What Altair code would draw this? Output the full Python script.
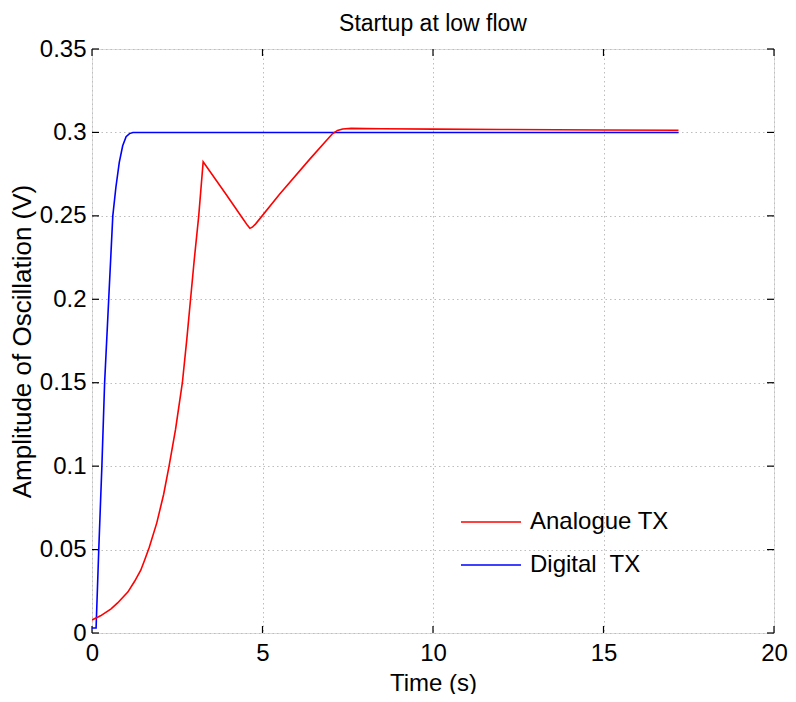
import altair as alt
import pandas as pd

# Analogue TX (red)
ana_t = [0, 0.25, 0.56, 0.75, 1.05, 1.25, 1.43, 1.55, 1.68, 1.9, 2.1, 2.26, 2.45, 2.65,
         2.78, 2.89, 3.0, 3.13, 3.26, 3.95, 4.45, 4.56, 4.63, 4.7, 4.8, 5.5, 6.4, 6.9,
         7.05, 7.2, 7.35, 7.6, 8.5, 10, 12, 15, 17.2]
ana_v = [0.0078, 0.0103, 0.0145, 0.018, 0.0245, 0.031, 0.0376, 0.044, 0.0514, 0.066,
         0.083, 0.1, 0.122, 0.15, 0.176, 0.2, 0.224, 0.25, 0.2824, 0.2623, 0.2475,
         0.2443, 0.2425, 0.2432, 0.2452, 0.2630, 0.2843, 0.2958, 0.2992, 0.3012, 0.3021,
         0.3024, 0.3022, 0.302, 0.3018, 0.3015, 0.3013]

# Digital TX (blue)
dig_t = [0, 0.12, 0.2, 0.29, 0.37, 0.49, 0.61, 0.7, 0.8, 0.9, 1.0, 1.1, 1.2, 17.2]
dig_v = [0.003, 0.003, 0.051, 0.1, 0.15, 0.2, 0.25, 0.267, 0.282, 0.292, 0.2975, 0.2993,
         0.3, 0.3]

series_names = ["Analogue TX", "Digital\u00a0 TX"]
series_colors = ["#ff0000", "#0000ff"]

x_ticks = [0, 5, 10, 15, 20]
y_ticks = [0, 0.05, 0.1, 0.15, 0.2, 0.25, 0.3, 0.35]

W, H = 682, 584
FONT = "Liberation Sans"

df = pd.concat([
    pd.DataFrame({"t": dig_t, "v": dig_v, "s": series_names[1], "o": 0}),
    pd.DataFrame({"t": ana_t, "v": ana_v, "s": series_names[0], "o": 1}),
], ignore_index=True)

xs = alt.Scale(domain=[0, 20], nice=False)
ys = alt.Scale(domain=[0, 0.35], nice=False)

grid_color = "#bdbdbd"

lines = alt.Chart(df).mark_line(strokeWidth=1.6, clip=True).encode(
    x=alt.X("t:Q", scale=xs, title="Time (s)",
            axis=alt.Axis(values=x_ticks, grid=True, gridDash=[1.5, 3], gridColor=grid_color,
                          gridWidth=1, ticks=False, domain=False, labelFlush=False,
                          labelFontSize=24, labelPadding=8, titleFontSize=24,
                          titlePadding=6, titleFontWeight="normal", format="d")),
    y=alt.Y("v:Q", scale=ys, title="Amplitude of Oscillation (V)",
            axis=alt.Axis(values=y_ticks, grid=True, gridDash=[1.5, 3], gridColor=grid_color,
                          gridWidth=1, ticks=False, domain=False, labelFlush=False,
                          labelFontSize=24, labelPadding=6, titleFontSize=26,
                          titlePadding=4, titleFontWeight="normal", format="~g")),
    color=alt.Color("s:N", scale=alt.Scale(domain=series_names, range=series_colors),
                    legend=alt.Legend(title=None, orient="none", legendX=368, legendY=442,
                                      symbolType="stroke", symbolSize=3600,
                                      symbolStrokeWidth=1.6, labelFontSize=24,
                                      labelOffset=8, rowPadding=-13, padding=0,
                                      labelFont=FONT)),
    detail="s:N",
    order="o:Q",
)

xt = pd.DataFrame({"x": x_ticks})
yt = pd.DataFrame({"y": y_ticks})
TL = 7
tick_style = dict(color="black", strokeWidth=1.2)
xb = alt.Chart(xt).mark_rule(**tick_style).encode(
    x=alt.X("x:Q", scale=xs), y=alt.value(H), y2=alt.value(H - TL))
xtop = alt.Chart(xt).mark_rule(**tick_style).encode(
    x=alt.X("x:Q", scale=xs), y=alt.value(0), y2=alt.value(TL))
yl = alt.Chart(yt).mark_rule(**tick_style).encode(
    y=alt.Y("y:Q", scale=ys), x=alt.value(0), x2=alt.value(TL))
yr = alt.Chart(yt).mark_rule(**tick_style).encode(
    y=alt.Y("y:Q", scale=ys), x=alt.value(W), x2=alt.value(W - TL))

chart = alt.layer(xb, xtop, yl, yr, lines).properties(
    width=W, height=H,
    title=alt.TitleParams("Startup at low flow", fontSize=23, fontWeight="normal",
                          font=FONT, offset=1, color="black", frame="group"),
    autosize=alt.AutoSizeParams(type="none"),
    padding={"left": 84, "top": 41, "right": 14, "bottom": 61},
).configure_view(
    stroke="black", strokeWidth=1.5
).configure_axis(
    labelFont=FONT, titleFont=FONT, labelColor="black", titleColor="black"
).configure(background="white")

chart.save("out.html", embed_options={"renderer": "svg", "actions": False})
